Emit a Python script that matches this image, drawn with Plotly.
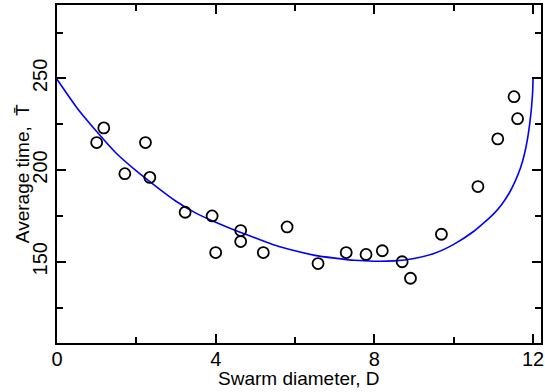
import plotly.graph_objects as go

# Observed data points
D_obs = [1.00, 1.18, 1.71, 2.23, 2.34, 3.23, 3.91, 4.00, 4.63, 4.63, 5.20, 5.80,
         6.58, 7.29, 7.79, 8.20, 8.70, 8.91, 9.69, 10.61, 11.11, 11.52, 11.61]
T_obs = [215, 223, 198, 215, 196, 177, 175, 155, 167, 161, 155, 169,
         149, 155, 154, 156, 150, 141, 165, 191, 217, 240, 228]

# Fitted curve
D_fit = [0.0, 0.5, 1.0, 1.5, 2.0, 2.5, 3.0, 3.5, 4.0, 4.5, 5.0, 5.5, 6.0, 6.5, 7.0,
         7.5, 8.0, 8.5, 9.0, 9.5, 10.0, 10.5, 10.8, 11.0, 11.2, 11.4, 11.55, 11.68,
         11.78, 11.86, 11.92, 11.96, 11.99, 12.0]
T_fit = [249.5, 234, 221, 209, 199.5, 191, 183, 176.5, 171.5, 167, 163, 159, 156,
         153.5, 152, 150.8, 150.3, 150.5, 151.8, 154.5, 159.5, 166.5, 172, 176,
         181, 187.5, 194, 201, 208.5, 217, 226, 234, 243, 250]

x_ticks = [0, 4, 8, 12]
y_ticks = [150, 200, 250]

fig = go.Figure()
fig.add_trace(go.Scatter(x=D_fit, y=T_fit, mode="lines",
                         line=dict(color="#0000ff", width=1.6, shape="spline", smoothing=0.5),
                         showlegend=False, hoverinfo="skip"))
fig.add_trace(go.Scatter(x=D_obs, y=T_obs, mode="markers",
                         marker=dict(symbol="circle-open", size=11, color="black", line=dict(width=1.8)),
                         showlegend=False))

tick_font = dict(family="Liberation Sans, Arial, sans-serif", size=20, color="black")
title_font = dict(family="Liberation Sans, Arial, sans-serif", size=19, color="black")

fig.update_layout(
    width=545, height=392,
    margin=dict(l=57, r=4, t=5, b=49),
    paper_bgcolor="white", plot_bgcolor="white",
    font=tick_font,
    xaxis=dict(range=[0, 12.2], tickvals=x_ticks, ticktext=[str(v) for v in x_ticks],
               ticks="inside", ticklen=9, tickwidth=1.5, tickcolor="black",
               minor=dict(tickvals=[2, 6, 10], ticks="inside", ticklen=6, tickwidth=1.5, tickcolor="black"),
               showline=True, linecolor="black", linewidth=2, mirror="ticks",
               showgrid=False, zeroline=False, automargin=False, tickfont=tick_font,
               ticklabelstandoff=-3),
    yaxis=dict(range=[105.7, 290], tickvals=y_ticks, ticktext=[str(v) for v in y_ticks],
               ticks="inside", ticklen=9, tickwidth=1.5, tickcolor="black",
               minor=dict(tickvals=[125, 175, 225, 275], ticks="inside", ticklen=6, tickwidth=1.5, tickcolor="black"),
               showline=True, linecolor="black", linewidth=2, mirror="ticks",
               showgrid=False, zeroline=False, tickangle=-90, automargin=False, tickfont=tick_font),
    annotations=[
        dict(text="Swarm diameter, D", x=0.5, xref="paper", y=-0.068, yref="paper",
             yanchor="top", xanchor="center", showarrow=False, font=title_font),
        dict(text="Average time,  T\u0304", x=-0.072, xref="paper", y=0.5, yref="paper",
             xanchor="center", yanchor="middle", textangle=-90, showarrow=False, font=title_font),
        dict(text="T\u0304", x=(418 - 57) / 484, xref="paper", y=-0.135, yref="paper",
             yanchor="top", xanchor="center", showarrow=False, font=title_font),
    ],
)

fig.write_html("out.html", config={"displayModeBar": False},
               post_script="document.body.style.margin='0';document.body.style.overflow='hidden';")
